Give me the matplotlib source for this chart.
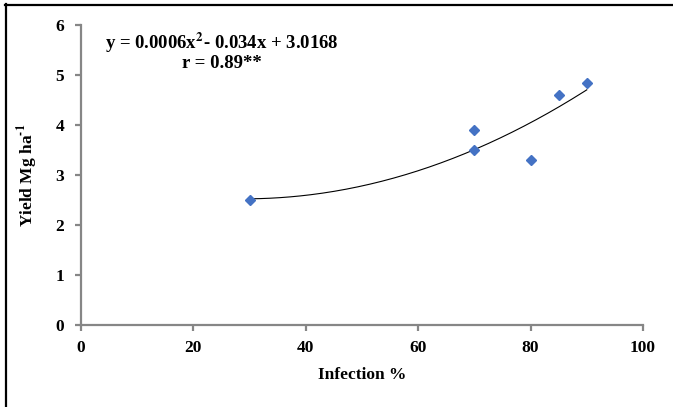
import matplotlib.pyplot as plt
import numpy as np
from matplotlib.lines import Line2D

# Datos
infection = [30, 70, 70, 80, 85, 90]
yield_mg = [2.5, 3.9, 3.5, 3.3, 4.6, 4.85]
x_ticks = [0, 20, 40, 60, 80, 100]
y_ticks = [0, 1, 2, 3, 4, 5, 6]
eq_text = r'y = 0.0006x$^{\mathbf{2}}$- 0.034x + 3.0168'
r_text = 'r = 0.89**'

plt.rcParams['font.family'] = ['Liberation Serif', 'DejaVu Serif']
plt.rcParams['font.weight'] = 'bold'
plt.rcParams['mathtext.fontset'] = 'stix'

W, H = 673, 407
FS = 12.5
fig = plt.figure(figsize=(W / 100, H / 100), dpi=100)
ax = fig.add_axes([81 / W, 1 - 325 / H, (643 - 81) / W, (325 - 25) / H])

# Línea de tendencia polinómica de orden 2
coef = np.polyfit(infection, yield_mg, 2)
xs = np.linspace(min(infection), max(infection), 200)
ax.plot(xs, np.polyval(coef, xs), color='black', lw=0.8, zorder=2)

# Puntos
ax.plot(infection, yield_mg, 'D', color='#4472C4', ms=5, mec='#4472C4', zorder=3)

ax.set_xlim(0, 100)
ax.set_ylim(0, 6)
ax.set_xticks(x_ticks)
ax.set_yticks(y_ticks)

gray = '#868686'
for s in ['top', 'right']:
    ax.spines[s].set_visible(False)
for s in ['left', 'bottom']:
    ax.spines[s].set_color(gray)
    ax.spines[s].set_linewidth(1.6)
ax.tick_params(axis='both', colors=gray, width=1.6, length=4, direction='out',
               labelcolor='black', labelsize=FS)
ax.tick_params(axis='y', pad=8)
ax.tick_params(axis='x', pad=7)
for lbl in ax.get_xticklabels() + ax.get_yticklabels():
    lbl.set_fontweight('bold')

ax.set_xlabel('Infection %', fontsize=FS, fontweight='bold', labelpad=8)
ax.set_ylabel(r'Yield Mg ha$^{\text{-}\mathbf{1}}$', fontsize=FS, fontweight='bold', labelpad=11)

ax.text(25, 5.64, eq_text, ha='center', va='center', fontsize=13.5, fontweight='bold')
ax.text(25, 5.24, r_text, ha='center', va='center', fontsize=13.5, fontweight='bold')

# Marco exterior (solo izquierda y arriba visibles)
fig.add_artist(Line2D([6 / W, 6 / W], [0, 1 - 4 / H], color='black', lw=1.6,
                      transform=fig.transFigure))
fig.add_artist(Line2D([5 / W, 1], [1 - 5 / H, 1 - 5 / H], color='black', lw=1.6,
                      transform=fig.transFigure))

fig.savefig('out.png', dpi=100)
